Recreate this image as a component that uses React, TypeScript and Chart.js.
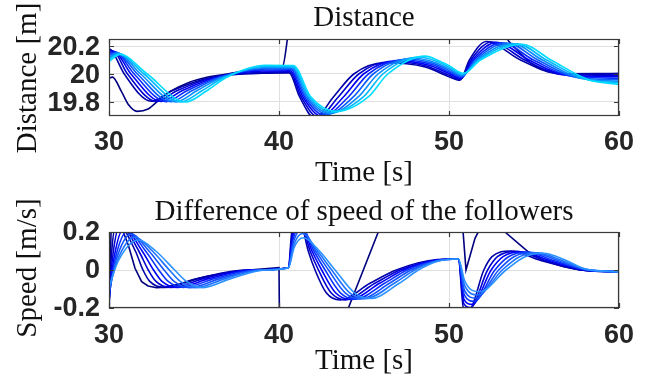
import React, { useEffect, useRef } from 'react';
import { Chart, registerables } from 'chart.js';

Chart.register(...registerables);

// ---------- axis ticks ----------
const timeTicks = [30, 40, 50, 60];
const distanceTicks = [19.8, 20, 20.2];
const speedTicks = [-0.2, 0, 0.2];

// ---------- Distance subplot: [time s, distance m] ----------
const distNavy: [number, number][] = [
  [30, 19.97], [30.2, 19.978], [30.75, 19.87], [31.15, 19.78], [31.65, 19.733], [32.3, 19.75],
  [32.9, 19.81], [33.6, 19.875], [34.7, 19.94], [35.7, 19.975], [36.7, 19.995], [37.7, 20.015],
  [38.7, 20.03], [39.6, 20.042], [40.2, 20.05], [40.55, 20.3], [41.0, 20.7], [42, 21.2], [47, 21.5],
  [52, 21.0], [53.0, 20.45], [53.4, 20.26], [53.7, 20.21], [54.1, 20.16], [54.8, 20.08], [55.6, 20.03],
  [56.6, 20.005], [58, 19.998], [60, 20.003],
];
const dist1: [number, number][] = [
  [30, 20.18], [30.15, 20.17], [30.9, 20.0], [32.5, 19.805], [33.7, 19.88], [36.0, 19.975], [39.0, 20.005],
  [40.6, 20.008], [41.2, 19.84], [42.1, 19.685], [43.2, 19.836], [44.4, 20.0], [46.2, 20.08], [48.6, 20.05],
  [50.0, 19.98], [50.65, 19.955], [51.2, 20.1], [52.2, 20.232], [54.2, 20.1], [56.5, 20.002], [60, 20.003],
];
const dist2: [number, number][] = [
  [30, 20.167], [30.22, 20.166], [31.09, 20.0], [32.79, 19.804], [33.99, 19.88], [36.13, 19.975], [39.03, 20.013],
  [40.64, 20.015], [41.29, 19.84], [42.29, 19.692], [43.49, 19.836], [44.69, 20.0], [46.54, 20.087], [48.71, 20.056],
  [50.0, 19.991], [50.68, 19.962], [51.29, 20.1], [52.5, 20.229], [54.46, 20.1], [56.76, 19.995], [60, 19.992],
];
const dist3: [number, number][] = [
  [30, 20.154], [30.29, 20.161], [31.29, 20.0], [33.07, 19.804], [34.29, 19.88], [36.26, 19.975], [39.06, 20.021],
  [40.67, 20.023], [41.39, 19.84], [42.47, 19.699], [43.79, 19.836], [44.97, 20.0], [46.89, 20.094], [48.83, 20.063],
  [50.0, 20.003], [50.71, 19.969], [51.39, 20.1], [52.8, 20.226], [54.71, 20.1], [57.01, 19.989], [60, 19.981],
];
const dist4: [number, number][] = [
  [30, 20.141], [30.36, 20.157], [31.48, 20.0], [33.36, 19.803], [34.58, 19.88], [36.39, 19.975], [39.09, 20.029],
  [40.71, 20.03], [41.48, 19.84], [42.66, 19.706], [44.08, 19.836], [45.26, 20.0], [47.23, 20.101], [48.94, 20.069],
  [50.0, 20.014], [50.74, 19.976], [51.48, 20.1], [53.1, 20.223], [54.97, 20.1], [57.27, 19.982], [60, 19.97],
];
const dist5: [number, number][] = [
  [30, 20.129], [30.44, 20.153], [31.67, 20.0], [33.64, 19.802], [34.87, 19.88], [36.51, 19.975], [39.11, 20.038],
  [40.74, 20.038], [41.57, 19.84], [42.84, 19.712], [44.37, 19.836], [45.54, 20.0], [47.57, 20.107], [49.06, 20.076],
  [50.0, 20.026], [50.76, 19.984], [51.57, 20.1], [53.4, 20.221], [55.23, 20.1], [57.53, 19.975], [60, 19.959],
];
const dist6: [number, number][] = [
  [30, 20.116], [30.51, 20.149], [31.86, 20.0], [33.93, 19.801], [35.16, 19.88], [36.64, 19.975], [39.14, 20.046],
  [40.78, 20.045], [41.66, 19.84], [43.03, 19.719], [44.66, 19.836], [45.83, 20.0], [47.91, 20.114], [49.17, 20.082],
  [50.0, 20.037], [50.79, 19.991], [51.66, 20.1], [53.7, 20.218], [55.49, 20.1], [57.79, 19.968], [60, 19.948],
];
const dist7: [number, number][] = [
  [30, 20.103], [30.58, 20.144], [32.06, 20.0], [34.21, 19.801], [35.46, 19.88], [36.77, 19.975], [39.17, 20.054],
  [40.81, 20.053], [41.76, 19.84], [43.21, 19.726], [44.96, 19.836], [46.11, 20.0], [48.26, 20.121], [49.29, 20.089],
  [50.0, 20.049], [50.82, 19.998], [51.76, 20.1], [54.0, 20.215], [55.74, 20.1], [58.04, 19.962], [60, 19.937],
];
const dist8: [number, number][] = [
  [30, 20.09], [30.65, 20.14], [32.25, 20.0], [34.5, 19.8], [35.75, 19.88], [36.9, 19.975], [39.2, 20.062],
  [40.85, 20.06], [41.85, 19.84], [43.4, 19.733], [45.25, 19.836], [46.4, 20.0], [48.6, 20.128], [49.4, 20.095],
  [50.0, 20.06], [50.85, 20.005], [51.85, 20.1], [54.3, 20.212], [56.0, 20.1], [58.3, 19.955], [60, 19.926],
];

// ---------- Speed-difference subplot: [time s, speed m/s] ----------
const speedNavy: [number, number][] = [
  [30, -0.25], [30.12, 0.2], [30.4, 0.45], [30.84, 0.2], [31.14, 0.13], [31.53, 0.009], [31.92, -0.061],
  [32.3, -0.084], [32.8, -0.093], [33.3, -0.09], [34.1, -0.075], [34.9, -0.052], [35.7, -0.034], [36.6, -0.02],
  [37.6, -0.008], [38.6, 0.002], [39.5, 0.009], [40.0, 0.012], [40.1, -1.0], [44.08, -0.2], [45.84, 0.2],
  [48, 0.7], [50.4, 0.7], [51.0, 0.0], [51.53, 0.167], [52.3, 0.3], [53.29, 0.2], [54.66, 0.096],
  [55.5, 0.052], [56.7, 0.018], [57.7, 0.0], [60, -0.01],
];
const speed1: [number, number][] = [
  [30, -0.19], [30.12, 0.05], [30.45, 0.25], [31.55, 0.1], [32.0, 0], [32.4, -0.06], [33.3, -0.092], [35.3, -0.044],
  [38.0, 0], [40.55, 0.012], [40.75, 0.2], [41.1, 0.3], [41.72, 0.1], [42.12, 0], [42.78, -0.12], [43.6, -0.158],
  [45.35, -0.07], [46.9, 0], [49.3, 0.055], [50.55, 0.058], [50.85, -0.2], [51.15, -0.215], [52.05, 0], [52.53, 0.07],
  [53.6, 0.1], [55.4, 0.05], [58.0, -0.003], [60, -0.01],
];
const speed2: [number, number][] = [
  [30, -0.173], [30.19, 0.05], [30.66, 0.235], [31.75, 0.1], [32.31, 0], [32.76, -0.06], [33.66, -0.092], [35.62, -0.044],
  [38.2, 0], [40.55, 0.012], [40.78, 0.187], [41.16, 0.278], [41.83, 0.1], [42.32, 0], [43.06, -0.12], [43.9, -0.157],
  [45.64, -0.07], [47.12, 0], [49.3, 0.053], [50.55, 0.058], [50.87, -0.177], [51.26, -0.198], [52.27, 0], [52.85, 0.07],
  [53.93, 0.098], [55.65, 0.05], [58.0, -0.002], [60, -0.01],
];
const speed3: [number, number][] = [
  [30, -0.156], [30.27, 0.05], [30.88, 0.219], [31.95, 0.1], [32.62, 0], [33.12, -0.06], [34.02, -0.092], [35.93, -0.044],
  [38.4, 0], [40.55, 0.012], [40.8, 0.173], [41.21, 0.257], [41.94, 0.1], [42.51, 0], [43.33, -0.12], [44.2, -0.155],
  [45.92, -0.07], [47.33, 0], [49.3, 0.052], [50.55, 0.058], [50.88, -0.154], [51.37, -0.181], [52.48, 0], [53.18, 0.07],
  [54.25, 0.096], [55.9, 0.05], [58.0, 0], [60, -0.01],
];
const speed4: [number, number][] = [
  [30, -0.139], [30.34, 0.05], [31.09, 0.204], [32.15, 0.1], [32.93, 0], [33.48, -0.06], [34.38, -0.092], [36.25, -0.044],
  [38.6, 0], [40.55, 0.012], [40.83, 0.16], [41.27, 0.235], [42.05, 0.1], [42.71, 0], [43.61, -0.12], [44.5, -0.154],
  [46.21, -0.07], [47.55, 0], [49.3, 0.05], [50.55, 0.058], [50.9, -0.131], [51.48, -0.165], [52.7, 0], [53.5, 0.07],
  [54.58, 0.094], [56.15, 0.05], [58.0, 0.002], [60, -0.01],
];
const speed5: [number, number][] = [
  [30, -0.122], [30.41, 0.05], [31.3, 0.189], [32.35, 0.1], [33.24, 0], [33.83, -0.06], [34.73, -0.093], [36.57, -0.044],
  [38.8, 0], [40.55, 0.012], [40.85, 0.147], [41.32, 0.213], [42.16, 0.1], [42.91, 0], [43.89, -0.12], [44.8, -0.153],
  [46.5, -0.07], [47.77, 0], [49.3, 0.048], [50.55, 0.058], [50.91, -0.107], [51.58, -0.148], [52.92, 0], [53.82, 0.07],
  [54.9, 0.092], [56.4, 0.05], [58.0, 0.003], [60, -0.01],
];
const speed6: [number, number][] = [
  [30, -0.105], [30.49, 0.05], [31.52, 0.173], [32.55, 0.1], [33.55, 0], [34.19, -0.06], [35.09, -0.093], [36.88, -0.044],
  [39.0, 0], [40.55, 0.012], [40.88, 0.133], [41.38, 0.192], [42.27, 0.1], [43.1, 0], [44.16, -0.12], [45.1, -0.151],
  [46.78, -0.07], [47.98, 0], [49.3, 0.047], [50.55, 0.058], [50.93, -0.084], [51.69, -0.131], [53.13, 0], [54.15, 0.07],
  [55.23, 0.09], [56.65, 0.05], [58.0, 0.005], [60, -0.01],
];
const speed7: [number, number][] = [
  [30, -0.088], [30.56, 0.05], [31.73, 0.158], [32.75, 0.1], [33.86, 0], [34.55, -0.06], [35.45, -0.093], [37.2, -0.044],
  [39.2, 0], [40.55, 0.012], [40.9, 0.12], [41.43, 0.17], [42.38, 0.1], [43.3, 0], [44.44, -0.12], [45.4, -0.15],
  [47.07, -0.07], [48.2, 0], [49.3, 0.045], [50.55, 0.058], [50.94, -0.061], [51.8, -0.114], [53.35, 0], [54.47, 0.07],
  [55.55, 0.088], [56.9, 0.05], [58.0, 0.006], [60, -0.01],
];

const distanceSeries = [distNavy, dist1, dist2, dist3, dist4, dist5, dist6, dist7, dist8];
const speedSeries = [speedNavy, speed1, speed2, speed3, speed4, speed5, speed6, speed7];

// ---------- styles ----------
const distanceColors = ['#000080', '#0000a6', '#0000cc', '#0000f0', '#0a2cff', '#0a5cff', '#0a8cff', '#00b8ff', '#00dcff'];
const speedColors = ['#000080', '#0000a8', '#0000d0', '#0000f5', '#0a32ff', '#1452ff', '#1e72ff', '#2b92ff'];

const SERIF = '"Liberation Serif", "Times New Roman", serif';
const SANS = '"Liberation Sans", Arial, Helvetica, sans-serif';
const fmt = (v: number) => String(+Number(v).toFixed(1));

const decor = {
  id: 'decor',
  afterDraw(chart: any, _args: any, o: any) {
    const { ctx, chartArea: a, scales } = chart;
    ctx.save();
    // frame
    ctx.strokeStyle = '#3a3a3a';
    ctx.lineWidth = 1.2;
    ctx.strokeRect(a.left + 0.5, a.top + 0.5, a.right - a.left - 1, a.bottom - a.top - 1);
    // inward ticks
    ctx.beginPath();
    for (const v of o.xTicks) {
      const x = Math.round(scales.x.getPixelForValue(v)) + 0.5;
      ctx.moveTo(x, a.top); ctx.lineTo(x, a.top + 5);
      ctx.moveTo(x, a.bottom); ctx.lineTo(x, a.bottom - 5);
    }
    for (const v of o.yTicks) {
      const y = Math.round(scales.y.getPixelForValue(v)) + 0.5;
      ctx.moveTo(a.left, y); ctx.lineTo(a.left + 5, y);
      ctx.moveTo(a.right, y); ctx.lineTo(a.right - 5, y);
    }
    ctx.stroke();
    // texts
    ctx.fillStyle = '#111';
    ctx.textAlign = 'center';
    ctx.textBaseline = 'middle';
    const cx = (a.left + a.right) / 2;
    ctx.font = `${o.titleSize}px ${SERIF}`;
    ctx.fillText(o.title, cx, o.titleY);
    ctx.font = `${o.labelSize}px ${SERIF}`;
    ctx.fillText(o.xlabel, cx, o.xlabelY);
    ctx.translate(o.ylabelX, o.ylabelY);
    ctx.rotate(-Math.PI / 2);
    ctx.fillText(o.ylabel, 0, 0);
    ctx.restore();
  },
};

function makeChart(canvas: HTMLCanvasElement, cfg: any) {
  return new Chart(canvas, {
    type: 'line',
    data: {
      datasets: cfg.series.map((s: [number, number][], i: number) => ({
        data: s.map(([x, y]) => ({ x, y })),
        borderColor: cfg.colors[i],
        borderWidth: 1.6,
        pointRadius: 0,
        fill: false,
        tension: 0,
        cubicInterpolationMode: cfg.straight[i] ? 'default' : 'monotone',
        order: cfg.series.length - i,
        clip: 0,
      })),
    },
    options: {
      responsive: false,
      animation: false,
      devicePixelRatio: 1,
      events: [],
      layout: { padding: { left: 0, right: 36, top: cfg.top, bottom: 0 } },
      plugins: {
        legend: { display: false },
        tooltip: { enabled: false },
        title: { display: false },
        decor: cfg.decor,
      },
      scales: {
        x: {
          type: 'linear',
          min: 30,
          max: 60,
          afterBuildTicks: (s: any) => { s.ticks = timeTicks.map((v) => ({ value: v })); },
          afterFit: (s: any) => { s.height = cfg.xh; s.paddingLeft = 0; s.paddingRight = 0; },
          grid: { color: '#dfdfdf', lineWidth: 1, drawTicks: false },
          border: { display: false },
          ticks: {
            color: '#262626',
            padding: cfg.xpad,
            maxRotation: 0,
            autoSkip: false,
            font: { family: SANS, weight: 'bold', size: 27 },
            callback: (v: any) => fmt(v),
          },
        },
        y: {
          type: 'linear',
          min: cfg.ymin,
          max: cfg.ymax,
          afterBuildTicks: (s: any) => { s.ticks = cfg.yTicks.map((v: number) => ({ value: v })); },
          afterFit: (s: any) => { s.width = 109; s.paddingTop = 0; s.paddingBottom = 0; },
          grid: { color: '#dfdfdf', lineWidth: 1, drawTicks: false },
          border: { display: false },
          ticks: {
            color: '#262626',
            padding: 9,
            labelOffset: cfg.labelOffset,
            autoSkip: false,
            font: { family: SANS, weight: 'bold', size: 27 },
            callback: (v: any) => fmt(v),
          },
        },
      },
    } as any,
    plugins: [decor],
  });
}

export default function App() {
  const topRef = useRef<HTMLCanvasElement>(null);
  const botRef = useRef<HTMLCanvasElement>(null);

  useEffect(() => {
    const c1 = makeChart(topRef.current!, {
      series: distanceSeries,
      colors: distanceColors,
      straight: distanceSeries.map(() => false),
      top: 39,
      xh: 76,
      xpad: 10,
      ymin: 19.7,
      ymax: 20.25,
      yTicks: distanceTicks,
      labelOffset: 2,
      decor: {
        title: 'Distance', titleY: 18, titleSize: 29,
        xlabel: 'Time [s]', xlabelY: 173, labelSize: 29,
        ylabel: 'Distance [m]', ylabelX: 28, ylabelY: 78,
        xTicks: timeTicks, yTicks: distanceTicks,
      },
    });
    const c2 = makeChart(botRef.current!, {
      series: speedSeries,
      colors: speedColors,
      straight: speedSeries.map((_, i) => i === 0),
      top: 40,
      xh: 77,
      xpad: 11,
      ymin: -0.2,
      ymax: 0.2,
      yTicks: speedTicks,
      labelOffset: 1,
      decor: {
        title: 'Difference of speed of the followers', titleY: 20, titleSize: 29,
        xlabel: 'Time [s]', xlabelY: 169, labelSize: 29,
        ylabel: 'Speed [m/s]', ylabelX: 28, ylabelY: 76,
        xTicks: timeTicks, yTicks: speedTicks,
      },
    });
    return () => { c1.destroy(); c2.destroy(); };
  }, []);

  return (
    <div style={{ position: 'absolute', left: 0, top: 0, width: 655, height: 385, background: '#fff' }}>
      <canvas ref={topRef} width={655} height={192} style={{ position: 'absolute', left: 0, top: 0 }} />
      <canvas ref={botRef} width={655} height={193} style={{ position: 'absolute', left: 0, top: 192 }} />
    </div>
  );
}
